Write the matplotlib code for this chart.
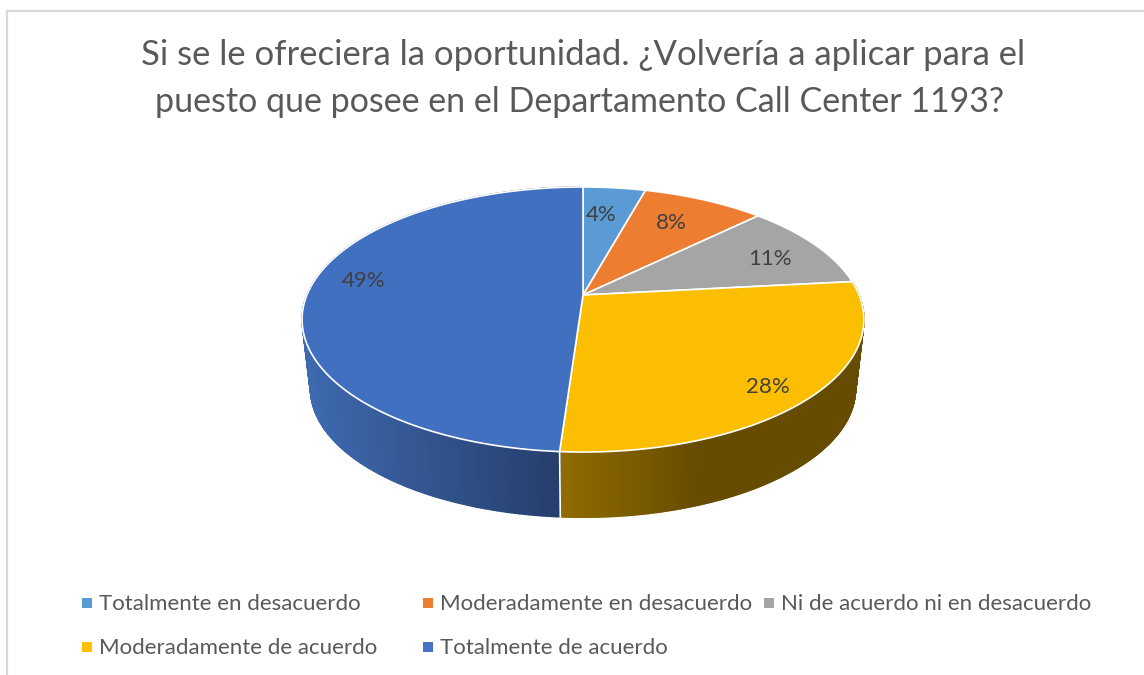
import numpy as np
import matplotlib
matplotlib.use("Agg")
import matplotlib.pyplot as plt
from matplotlib.collections import PolyCollection
from matplotlib.colors import to_rgb

title_lines = ["Si se le ofreciera la oportunidad. ¿Volvería a aplicar para el",
               "puesto que posee en el Departamento Call Center 1193?"]
categories = ["Totalmente en desacuerdo", "Moderadamente en desacuerdo",
              "Ni de acuerdo ni en desacuerdo", "Moderadamente de acuerdo",
              "Totalmente de acuerdo"]
values = [4.3, 8.4, 10.6, 27.8, 48.9]
colors = ["#5B9BD5", "#ED7D31", "#A5A5A5", "#FFC000", "#4472C4"]
top_colors = ["#5B9BD5", "#ED7D31", "#A5A5A5", "#FBBE00", "#4170C1"]
label_xy = [(601, 215), (671, 223), (770, 259), (768, 387), (364, 281)]
legend_xy = [(99, 604), (440, 604), (781, 604), (99, 648), (440, 648)]

FONT = "Lato"
W, H = 1144, 675
fig = plt.figure(figsize=(W / 100, H / 100), dpi=100)
ax = fig.add_axes([0, 0, 1, 1])
ax.set_xlim(0, W)
ax.set_ylim(H, 0)
ax.axis("off")

CX, CY = 583, 295
K, A, B = 0.1849, 276.1, 128.0
DEPTH_Y, DEPTH_S = 70, 0.97


def rim(theta, scale=1.0, dy=0.0):
    """Perspective projection of a point of the pie rim (theta clockwise from 12 o'clock)."""
    x, y = np.sin(theta), np.cos(theta)
    w = 1 + K * y
    return CX + scale * A * x / w, CY + dy - scale * B * y / w


edges = np.radians(np.cumsum([0] + values) * 3.6)

# side wall: gold and blue slices are the ones facing the viewer
side_ramps = {3: [(560, "#916C00"), (700, "#664C00"), (870, "#664C00")],
              4: [(300, "#3F6BB2"), (560, "#263E6C")]}
for i, ramp in side_ramps.items():
    th = np.linspace(edges[i], edges[i + 1], 220)
    x0, y0 = rim(th)
    x1, y1 = rim(th, DEPTH_S, DEPTH_Y)
    polys, cols = [], []
    xs = [r[0] for r in ramp]
    rgb = np.array([to_rgb(r[1]) for r in ramp])
    for j in range(len(th) - 1):
        polys.append([(x0[j], y0[j]), (x0[j + 1], y0[j + 1]), (x1[j + 1], y1[j + 1]), (x1[j], y1[j])])
        xm = (x0[j] + x1[j]) / 2
        cols.append([np.interp(xm, xs, rgb[:, c]) for c in range(3)])
    ax.add_collection(PolyCollection(polys, facecolors=cols, edgecolors=cols, linewidths=1.0, zorder=2))

# white seam on the wall between gold and blue
sx0, sy0 = rim(edges[4])
sx1, sy1 = rim(edges[4], DEPTH_S, DEPTH_Y)
ax.plot([sx0, sx1], [sy0, sy1], color="white", lw=1.2, zorder=3)

# top face
for i in range(len(values)):
    th = np.linspace(edges[i], edges[i + 1], 300)
    rx, ry = rim(th)
    ax.fill(np.r_[CX, rx], np.r_[CY, ry], facecolor=top_colors[i], edgecolor="white", lw=1.2,
            joinstyle="round", zorder=4)

# data labels
for v, (lx, ly) in zip(values, label_xy):
    ax.text(lx, ly, f"{round(v)}%", ha="center", va="center", family=FONT, fontsize=16, color="#404040", zorder=6)

# title
for line, x, y, size in zip(title_lines, (583, 580), (55, 102), (24.9, 24.5)):
    ax.text(x, y, line, ha="center", va="center", family=FONT, fontsize=size, color="#595959")

# legend
for name, col, (lx, ly) in zip(categories, colors, legend_xy):
    ax.scatter([lx - 12], [ly - 1], marker="s", s=42, color=col, linewidths=0, zorder=5)
    ax.text(lx, ly, name, ha="left", va="center", family=FONT, fontsize=16, color="#595959")

# chart frame
ax.plot([W, 7, 7], [10.5, 10.5, H], color="#D9D9D9", lw=1.6, solid_joinstyle="miter", clip_on=True)

fig.savefig("out.png", dpi=100, facecolor="white")
